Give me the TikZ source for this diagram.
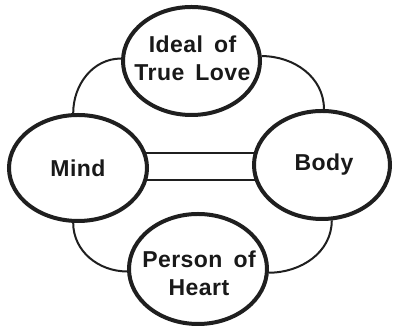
\documentclass[tikz,border=0pt]{standalone}
\usepackage{fontspec}
\newfontfamily\labfont{Liberation Sans}[LetterSpace=2]
\usetikzlibrary{shapes.geometric,backgrounds}
\newcommand\wgap{\hspace{11pt}}
\begin{document}
\begin{tikzpicture}[x=1pt,y=1pt,
  inkc/.style={draw=black!88},
  oval/.style={ellipse,inkc,line width=4pt,fill=white,inner sep=0pt},
  lab/.style={font=\labfont\bfseries\fontsize{23}{28}\selectfont,text=black!90,align=center,inner sep=0pt},
  link/.style={inkc,line width=2pt}]
\useasboundingbox (0,0) rectangle (394,328);
\node[oval,minimum width=137pt,minimum height=108pt] (ideal) at (191.5,267) {};
\node[oval,minimum width=138pt,minimum height=106pt] (mind) at (78,160) {};
\node[oval,minimum width=136pt,minimum height=108pt] (body) at (322,163) {};
\node[oval,minimum width=138pt,minimum height=110pt] (person) at (198,59) {};
\node[lab] (idealtxt) at ([xshift=1pt,yshift=2.5pt]ideal.center) {Ideal\wgap of\\True\wgap Love};
\node[lab] (mindtxt) at (mind.center) {Mind};
\node[lab] (bodytxt) at ([xshift=2pt]body.center) {Body};
\node[lab] (persontxt) at ([xshift=1pt,yshift=-4.5pt]person.center) {Person\wgap of\\Heart};
\begin{scope}[on background layer]
\draw[link] ([yshift=15pt]mind.center) -- ([yshift=12pt]body.center);
\draw[link] ([yshift=-12pt]mind.center) -- ([yshift=-15pt]body.center);
\draw[link] (mind.95) to[out=90,in=180] (ideal.178);
\draw[link] (ideal.4) to[out=0,in=90] (body.88);
\draw[link] (mind.265) to[out=-90,in=180] (person.182);
\draw[link] (body.-80) to[out=-90,in=0] (person.-3);
\end{scope}
\end{tikzpicture}
\end{document}
